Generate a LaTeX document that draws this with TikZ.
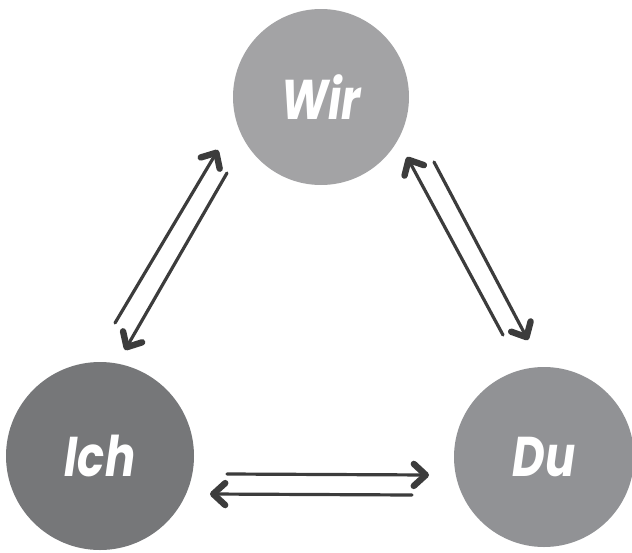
\documentclass[tikz,border=0pt]{standalone}
\usepackage{fontspec}
\newfontfamily\brushfont{Poppins}[FakeStretch=0.8]
\usetikzlibrary{arrows.meta,positioning}
\definecolor{wirgray}{HTML}{A3A3A5}
\definecolor{ichgray}{HTML}{767779}
\definecolor{dugray}{HTML}{919295}
\definecolor{arrowgray}{HTML}{3C3C3C}

\begin{document}
\begin{tikzpicture}[
	x = 1pt, y = -1pt,
	on grid,
	> = {Straight Barb[length=12pt,width=22pt,line width=0pt 2,round]},
	every node/.style = {circle, text=white, font=\brushfont\bfseries\itshape\fontsize{56}{56}\selectfont},
	pair/.style = {->, line width=3.2pt, draw=arrowgray, line cap=round}
	]
	\useasboundingbox (0,0) rectangle (632,552);
	\node[fill=wirgray, minimum size=176pt] (wir) at (321,97) {Wir};
	\node[fill=ichgray, minimum size=188pt] (ich) [below left=359pt and 221pt of wir] {Ich};
	\node[fill=dugray, minimum size=180pt]  (du)  [below right=360pt and 223pt of wir] {Du};
	% Ich <-> Wir
	\draw[pair] ([shift={(15,-133)}]ich.center) -- ([shift={(-103,53)}]wir.center);
	\draw[pair] ([shift={(-94,76)}]wir.center) -- ([shift={(25,-106)}]ich.center);
	% Wir <-> Du
	\draw[pair] ([shift={(-41,-122)}]du.center) -- ([shift={(86,60)}]wir.center);
	\draw[pair] ([shift={(113,65)}]wir.center) -- ([shift={(-16,-117)}]du.center);
	% Ich <-> Du
	\draw[pair] ([shift={(127,18)}]ich.center) -- ([shift={(-115,18)}]du.center);
	\draw[pair] ([shift={(-132,38)}]du.center) -- ([shift={(110,38)}]ich.center);
\end{tikzpicture}
\end{document}
